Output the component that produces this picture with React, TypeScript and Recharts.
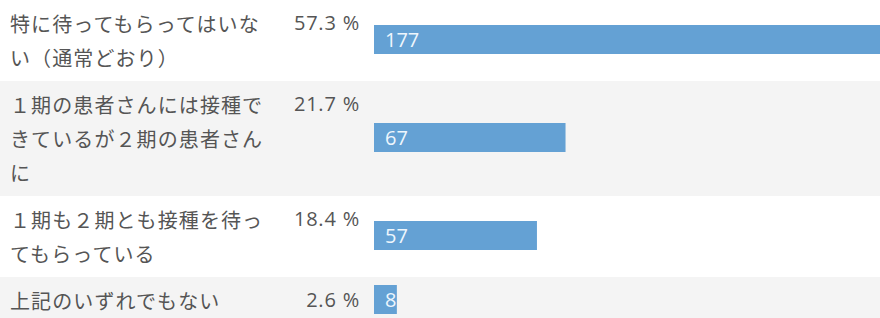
import React from 'react'
import { BarChart, Bar, XAxis, YAxis, LabelList } from 'recharts'

const categories = [
  "特に待ってもらってはいない（通常どおり）",
  "１期の患者さんには接種できているが２期の患者さんに",
  "１期も２期とも接種を待ってもらっている",
  "上記のいずれでもない",
]
const counts = [177, 67, 57, 8]
const percents = [57.3, 21.7, 18.4, 2.6]

const FONT = "'Noto Sans CJK JP', 'Noto Sans', sans-serif"
const NUM_FONT = "'Open Sans', 'Noto Sans', sans-serif"
const CHARS_PER_LINE = 12
const LINE_H = 34
const LABEL_W = 374

// split label into lines of 12 chars like the survey page wraps
const wrap = (s: string) => {
  const out: string[] = []
  for (let i = 0; i < s.length; i += CHARS_PER_LINE) out.push(s.slice(i, i + CHARS_PER_LINE))
  return out
}

const LabelTick = (props: any) => {
  const { y, payload } = props
  const idx = categories.indexOf(payload.value)
  const lines = wrap(payload.value)
  const top = y - ((lines.length - 1) * LINE_H) / 2
  return (
    <g>
      <text x={10} y={top} fill="#555" fontSize={20} fontFamily={FONT} letterSpacing={1.1} dominantBaseline="central">
        {lines.map((l, i) => (
          <tspan key={i} x={10} y={top + i * LINE_H}>{l}</tspan>
        ))}
      </text>
      <text x={360} y={top} fill="#555" fontSize={20} fontFamily={NUM_FONT} letterSpacing={0.8} textAnchor="end" dominantBaseline="central">
        {percents[idx].toFixed(1)} %
      </text>
    </g>
  )
}

const Row: React.FC<{ idx: number }> = ({ idx }) => {
  const lines = wrap(categories[idx]).length
  const h = lines * LINE_H + 13
  const data = [{ name: categories[idx], value: counts[idx] }]
  return (
    <div style={{ height: h, background: idx % 2 === 1 ? "#f4f4f4" : "#ffffff" }}>
      <BarChart layout="vertical" width={880} height={h} data={data}
        margin={{ top: 0, right: 0, bottom: 2, left: 0 }}>
        <XAxis type="number" domain={[0, 177]} hide />
        <YAxis type="category" dataKey="name" width={LABEL_W} axisLine={false} tickLine={false} tick={<LabelTick />} />
        <Bar dataKey="value" fill="#64a1d4" barSize={29} isAnimationActive={false}>
          <LabelList dataKey="value" position="insideLeft" offset={11} fill="#eef6fd" fontSize={20} fontFamily={NUM_FONT} />
        </Bar>
      </BarChart>
    </div>
  )
}

const App: React.FC = () => {
  return (
    <div style={{ position: "absolute", left: 0, top: 0, width: 880, height: 318, overflow: "hidden", background: "#fff" }}>
      {categories.map((c, i) => <Row key={c} idx={i} />)}
    </div>
  )
}

export default App
